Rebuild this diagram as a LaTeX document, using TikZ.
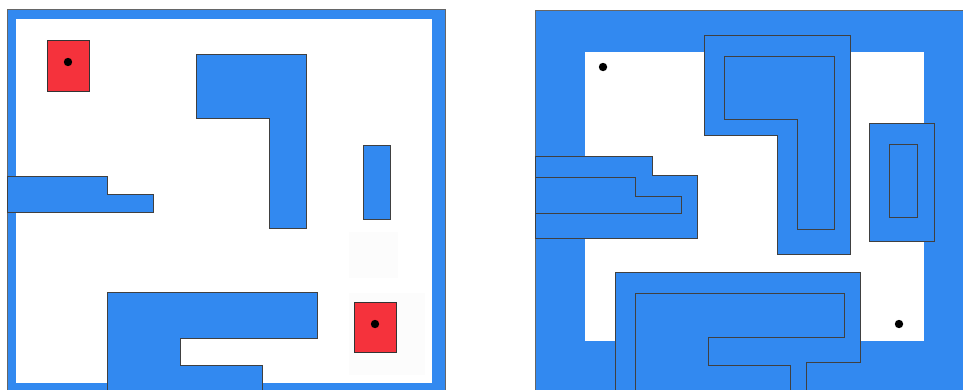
\documentclass[tikz,border=0pt]{standalone}
\begin{document}
\begin{tikzpicture}[x=1pt,y=-1pt,
  wall/.style={fill=mazeblue,draw=black!60,line width=0.5pt},
  obst/.style={fill=mazeblue,draw=black!75,line width=0.7pt},
  goal/.style={fill=goalred,draw=black!80,line width=0.8pt},
  dotmark/.style={fill=black,draw=none},
  faint/.style={fill=black!1.2,draw=none}]
\definecolor{mazeblue}{RGB}{50,137,240}
\definecolor{goalred}{RGB}{245,50,60}
\useasboundingbox (0,0) rectangle (963,389);
\clip (0,0) rectangle (963,389);
\fill[white] (0,0) rectangle (963,389);
% ---------- left panel ----------
\draw[wall] (7,9) rectangle (445,400);
\fill[white] (16,19) rectangle (432,383);
\fill[faint] (349,232) rectangle (398,278);
\fill[faint] (349,293) rectangle (425,375);
\draw[goal] (47,40) rectangle (89,91);
\fill[dotmark] (68,62) circle (4.2);
\draw[goal] (354,302) rectangle (396,352);
\fill[dotmark] (375,324) circle (4.2);
\draw[obst] (196,54) -- (306,54) -- (306,228) -- (269,228) -- (269,118) -- (196,118) -- cycle;
\draw[obst] (363,145) rectangle (390,219);
\draw[obst] (7,176) -- (107,176) -- (107,194) -- (153,194) -- (153,212) -- (7,212) -- cycle;
\draw[obst] (107,400) -- (107,292) -- (317,292) -- (317,338) -- (180,338) -- (180,365) -- (262,365) -- (262,400);
% ---------- right panel ----------
\draw[wall] (535,10) rectangle (970,400);
\fill[white] (585,52) rectangle (924,341);
\draw[obst] (704,35) -- (850,35) -- (850,254) -- (777,254) -- (777,135) -- (704,135) -- cycle;
\draw[obst] (724,56) -- (834,56) -- (834,229) -- (797,229) -- (797,119) -- (724,119) -- cycle;
\draw[obst] (869,123) rectangle (934,241);
\draw[obst] (889,144) rectangle (917,217);
\draw[obst] (535,156) -- (652,156) -- (652,175) -- (697,175) -- (697,238) -- (535,238) -- cycle;
\draw[obst] (535,177) -- (635,177) -- (635,196) -- (681,196) -- (681,213) -- (535,213) -- cycle;
\draw[obst] (615,400) -- (615,272) -- (860,272) -- (860,362) -- (806,362) -- (806,400);
\draw[obst] (635,400) -- (635,293) -- (844,293) -- (844,337) -- (708,337) -- (708,365) -- (790,365) -- (790,400);
\fill[dotmark] (603,67) circle (4.2);
\fill[dotmark] (899,324) circle (4.2);
\end{tikzpicture}
\end{document}
